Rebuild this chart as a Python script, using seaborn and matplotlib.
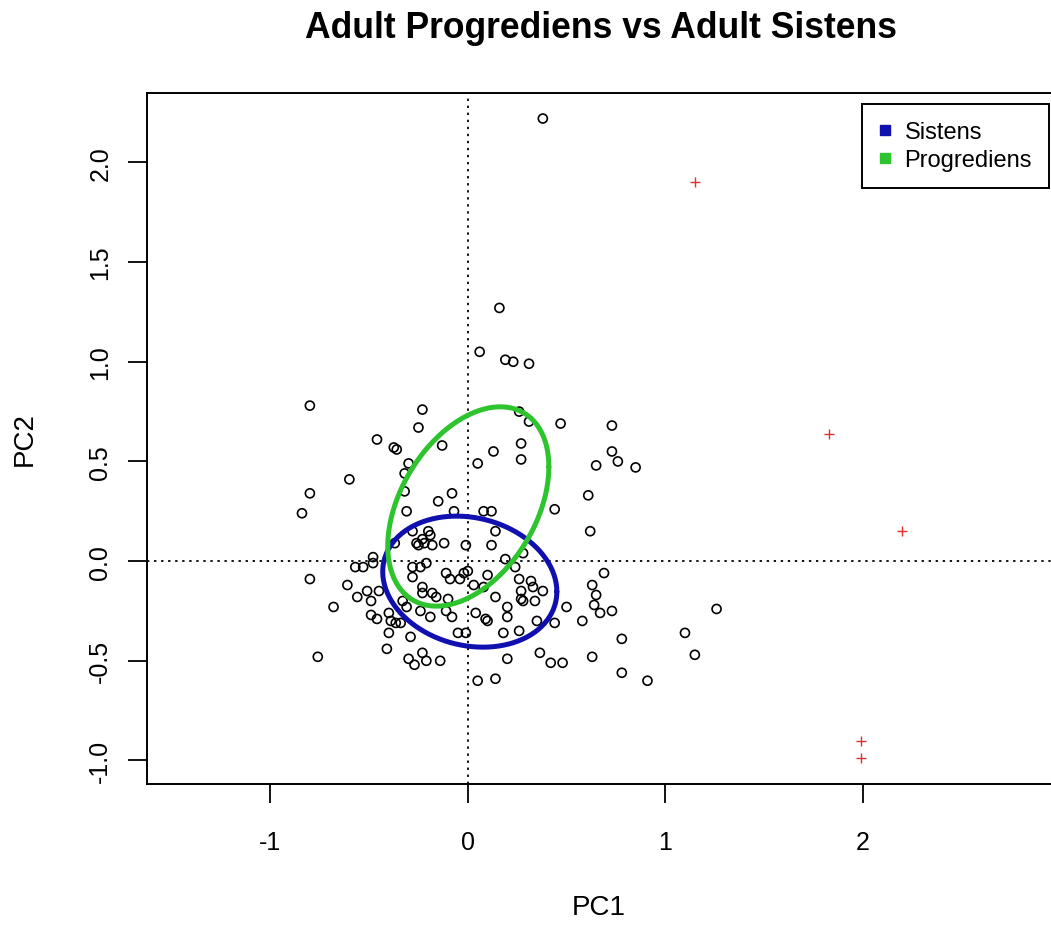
import numpy as np
import pandas as pd
import matplotlib
matplotlib.use("Agg")
import matplotlib.pyplot as plt
from matplotlib.lines import Line2D
import seaborn as sns

# PCA scores (PC1, PC2) of the adult samples
pc1 = [0.38, 0.16, 0.06, 0.19, 0.23, 0.31, -0.80, -0.23, -0.25, -0.46,
       -0.375, -0.36, -0.13, -0.30, -0.32, -0.60, -0.80, -0.84, -0.15, -0.08,
       -0.32, -0.31, -0.07, 0.05, 0.26, 0.31, 0.47, 0.73, 0.13, 0.27,
       0.27, 0.65, 0.73, 0.76, 0.85, 0.61, 0.44, 0.62, 0.08, 0.12,
       0.14, -0.12, -0.01, 0.12, 0.28, 0.19, 0.24, 0.69, -0.11, -0.02,
       0.10, -0.28, -0.20, -0.19, -0.23, -0.26, -0.25, -0.22, -0.18, -0.37,
       -0.48, -0.57, -0.53, -0.48, -0.80, -0.61, -0.56, -0.51, -0.49, -0.45,
       -0.68, -0.49, -0.46, -0.40, -0.39, -0.365, -0.34, -0.33, -0.31, -0.40,
       -0.29, -0.41, -0.76, -0.30, -0.23, -0.21, -0.27, -0.14, -0.28, -0.28,
       -0.24, -0.21, -0.23, -0.23, -0.18, -0.16, -0.24, -0.19, -0.09, -0.04,
       -0.10, -0.11, -0.08, -0.05, -0.01, 0.03, 0.08, 0.04, 0.09, 0.10,
       0.00, 0.05, 0.14, 0.26, 0.32, 0.33, 0.38, 0.27, 0.27, 0.28,
       0.34, 0.14, 0.20, 0.20, 0.35, 0.44, 0.50, 0.58, 0.18, 0.26,
       0.365, 0.20, 0.42, 0.48, 0.63, 0.78, 0.78, 0.91, 0.63, 0.65,
       0.64, 0.67, 0.73, 1.26, 1.10, 1.15]
pc2 = [2.22, 1.27, 1.05, 1.01, 1.00, 0.99, 0.78, 0.76, 0.67, 0.61,
       0.57, 0.56, 0.58, 0.49, 0.44, 0.41, 0.34, 0.24, 0.30, 0.34,
       0.35, 0.25, 0.25, 0.49, 0.75, 0.70, 0.69, 0.68, 0.55, 0.59,
       0.51, 0.48, 0.55, 0.50, 0.47, 0.33, 0.26, 0.15, 0.25, 0.25,
       0.15, 0.09, 0.08, 0.08, 0.04, 0.01, -0.03, -0.06, -0.06, -0.06,
       -0.07, 0.15, 0.15, 0.13, 0.11, 0.09, 0.08, 0.09, 0.08, 0.09,
       0.02, -0.03, -0.03, -0.01, -0.09, -0.12, -0.18, -0.15, -0.20, -0.15,
       -0.23, -0.27, -0.29, -0.26, -0.30, -0.31, -0.31, -0.20, -0.23, -0.36,
       -0.38, -0.44, -0.48, -0.49, -0.46, -0.50, -0.52, -0.50, -0.08, -0.03,
       -0.03, -0.01, -0.13, -0.16, -0.16, -0.18, -0.25, -0.28, -0.09, -0.09,
       -0.19, -0.25, -0.28, -0.36, -0.36, -0.12, -0.13, -0.26, -0.29, -0.30,
       -0.05, -0.60, -0.59, -0.09, -0.10, -0.13, -0.15, -0.15, -0.19, -0.20,
       -0.20, -0.18, -0.23, -0.28, -0.30, -0.31, -0.23, -0.30, -0.36, -0.35,
       -0.46, -0.49, -0.51, -0.51, -0.48, -0.39, -0.56, -0.60, -0.12, -0.17,
       -0.22, -0.26, -0.25, -0.24, -0.36, -0.47]

# outlying samples (drawn as red crosses)
out_pc1 = [1.15, 1.83, 2.20, 1.99, 1.99]
out_pc2 = [1.90, 0.64, 0.15, -0.90, -0.99]

# group ellipses: centre and covariance-shape matrix
groups = ["Sistens", "Progrediens"]
group_colors = ["#1010b0", "#2ec42e"]
ell_center = [[0.01, -0.103], [0.0025, 0.274]]
ell_shape = [[[0.1945, -0.022], [-0.022, 0.108]],
             [[0.1665, 0.081], [0.081, 0.25]]]

x_ticks = [-1, 0, 1, 2]
y_ticks = [-1.0, -0.5, 0.0, 0.5, 1.0, 1.5, 2.0]

sns.set_style("white")
plt.rcParams["font.family"] = ["Liberation Sans", "DejaVu Sans"]
plt.rcParams["axes.unicode_minus"] = False
for key in ["text.color", "axes.labelcolor", "xtick.color", "ytick.color",
            "axes.edgecolor"]:
    plt.rcParams[key] = "black"

W, H = 1051, 928
fig = plt.figure(figsize=(W / 100, H / 100), dpi=100)
ax = fig.add_axes([147 / W, 1 - 785 / H, (W - 147) / W, (785 - 94) / H])

# reference lines through the origin
ax.axvline(0, color="black", lw=1.3, linestyle=(0, (1.3, 2.6)), zorder=1)
ax.axhline(0, color="black", lw=1.3, linestyle=(0, (1.3, 2.6)), zorder=1)

sns.scatterplot(x=pc1, y=pc2, ax=ax, marker="o", s=42,
                facecolors="none", edgecolor="black", linewidth=1.2, zorder=3)
sns.scatterplot(x=out_pc1, y=out_pc2, ax=ax, marker="+", s=50,
                color="#e03030", linewidth=1.0, zorder=3)

t = np.linspace(0, 2 * np.pi, 200)
circle = np.vstack([np.cos(t), np.sin(t)])
for name, col, c, m in zip(groups, group_colors, ell_center, ell_shape):
    L = np.linalg.cholesky(np.array(m))
    pts = L @ circle + np.array(c)[:, None]
    df = pd.DataFrame({"x": pts[0], "y": pts[1]})
    sns.lineplot(data=df, x="x", y="y", sort=False, estimator=None,
                 color=col, lw=3.6, ax=ax, zorder=4)

ax.set_xlim(-1.625, 2.954)
ax.set_ylim(-1.118, 2.348)
ax.set_xticks(x_ticks)
ax.set_xticklabels([str(v) for v in x_ticks])
ax.set_yticks(y_ticks)
ax.set_yticklabels([f"{v:.1f}" for v in y_ticks], rotation=90, va="center")
ax.tick_params(axis="x", bottom=True, length=14, width=1.3, pad=19,
               labelsize=18, color="black", labelcolor="black")
ax.tick_params(axis="y", left=True, length=14, width=1.3, pad=11,
               labelsize=18, color="black", labelcolor="black")

for side in ["left", "bottom", "top"]:
    ax.spines[side].set_color("black")
    ax.spines[side].set_linewidth(1.4)
ax.spines["right"].set_visible(False)

ax.set_xlabel("PC1", fontsize=20, color="black")
ax.set_ylabel("PC2", fontsize=20, color="black")
ax.xaxis.set_label_coords(0.5, (785 - 908) / 691)
ax.xaxis.label.set_va("center")
ax.yaxis.set_label_coords((25 - 147) / 904, 0.5)
ax.yaxis.label.set_va("center")

fig.text(601 / W, 1 - 28 / H, "Adult Progrediens vs Adult Sistens",
         ha="center", va="center", fontsize=25.6, fontweight="bold",
         color="black")

handles = [Line2D([], [], marker="s", linestyle="none", markersize=7,
                  markerfacecolor=c, markeredgecolor=c) for c in group_colors]
leg = ax.legend(handles, groups, loc="upper right",
                bbox_to_anchor=(1049 / W, 1 - 105 / H),
                bbox_transform=fig.transFigure, borderaxespad=0,
                fontsize=17, frameon=True, fancybox=False, framealpha=1,
                edgecolor="black", handlelength=0.5, handletextpad=0.58,
                borderpad=0.72, labelspacing=0.25)
leg.get_frame().set_linewidth(1.4)
for txt in leg.get_texts():
    txt.set_color("black")

fig.savefig("out.png", dpi=100, facecolor="white")
